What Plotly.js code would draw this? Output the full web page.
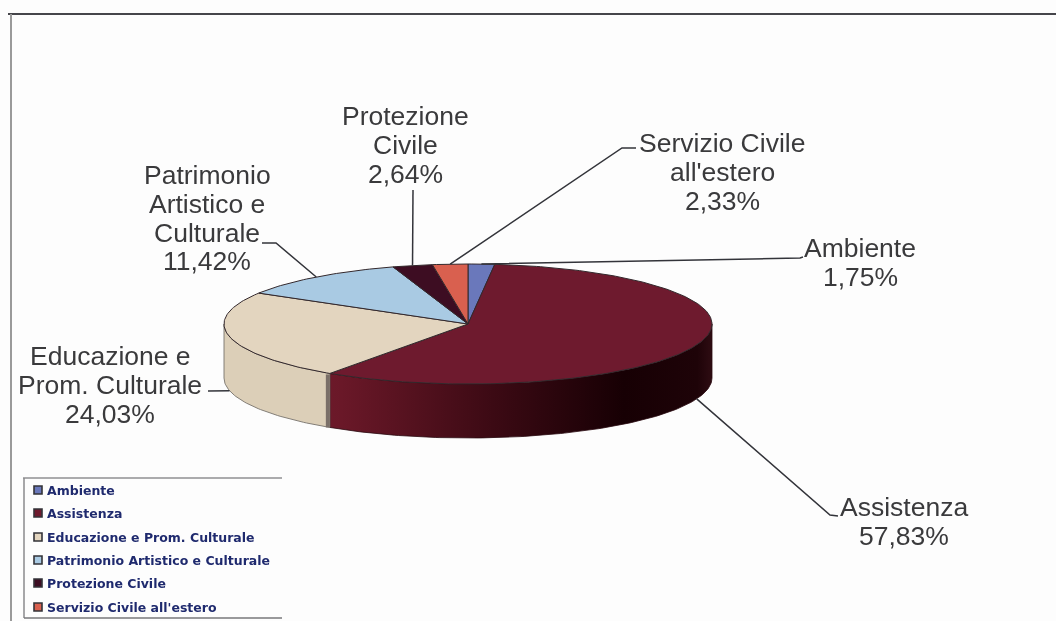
<!DOCTYPE html>
<html>
<head>
<meta charset="utf-8">
<script src="https://cdn.plot.ly/plotly-3.0.1.min.js"></script>
<style>
html,body{margin:0;padding:0;background:#fdfdfd;overflow:hidden}
#chart{width:1056px;height:621px;filter:blur(0.55px)}
</style>
</head>
<body>
<div id="chart"></div>
<script>
// Data
var categories = ["Ambiente","Assistenza","Educazione e Prom. Culturale","Patrimonio Artistico e Culturale","Protezione Civile","Servizio Civile all'estero"];
var values = [1.75,57.83,24.03,11.42,2.64,2.33];
var colors = ["#6a78bb","#6e1a2e","#e3d5bf","#a9cae3","#3d0d22","#d9604f"];

// Label text, one row per line
var labelLines = [
  ["Ambiente","1,75%"],
  ["Assistenza","57,83%"],
  ["Educazione e","Prom. Culturale","24,03%"],
  ["Patrimonio","Artistico e","Culturale","11,42%"],
  ["Protezione","Civile","2,64%"],
  ["Servizio Civile","all'estero","2,33%"]
];
var labelCentreX = [860,904,110,207,405,722];
var labelFirstY = [248,507,356,175,116,143];
// Leader route after the point on the pie rim
var leaderX = [[800,803],[830,838],[208,208],[276,262],[413,413],[622,636]];
var leaderY = [[258,257],[515,516],[391,391],[243,243],[190,190],[148,148]];
var leaderOnWall = [false,true,true,false,false,false];

// Pie geometry
var cx = 468, cy = 324, rx = 244, ry = 60, depth = 54;
function px(a){return cx + rx*Math.sin(a*Math.PI/180);}
function py(a){return cy - ry*Math.cos(a*Math.PI/180);}
function arc(a,b){
  var out=[],n=Math.max(2,Math.ceil(Math.abs(b-a)));
  for(var i=0;i<=n;i++){out.push(a+(b-a)*i/n);}
  return out;
}
var total = values.reduce(function(s,v){return s+v;},0);
var starts=[],ends=[],acc=0;
values.forEach(function(v){starts.push(acc/total*360);acc+=v;ends.push(acc/total*360);});

function wallTrace(a,b,extra){
  var ang=arc(a,b),x=ang.map(px),y=ang.map(py);
  var x2=x.slice().reverse(),y2=y.slice().reverse().map(function(v){return v+depth;});
  var t={type:"scatter",mode:"lines",x:x.concat(x2,[x[0]]),y:y.concat(y2,[y[0]]),fill:"toself",
    line:{color:"#6f6a66",width:0.8},hoverinfo:"skip",showlegend:false};
  for(var k in extra){t[k]=extra[k];}
  return t;
}
var traces=[];
// Side wall: visible part runs from the right extreme to the left extreme
traces.push(wallTrace(90,ends[1],{
  fillcolor:"#3a0a14",
  fillgradient:{type:"horizontal",start:cx-rx,stop:cx+rx,
    colorscale:[[0,"#7a2236"],[0.24,"#6a1828"],[0.55,"#3c0a14"],[0.82,"#170004"],[0.97,"#1e0308"],[1,"#2e0c12"]]},
  line:{color:"#2a0a10",width:0.8}
}));
traces.push(wallTrace(ends[1],270,{fillcolor:"#dccfb8",line:{color:"#77736c",width:0.9}}));
// Cut face between the two wall parts
traces.push({type:"scatter",mode:"lines",
  x:[px(ends[1])-2,px(ends[1])-2],y:[py(ends[1])+1,py(ends[1])+depth],
  line:{color:"#7a6f68",width:4},hoverinfo:"skip",showlegend:false});
// Top surface
values.forEach(function(v,i){
  var ang=arc(starts[i],ends[i]);
  traces.push({type:"scatter",mode:"lines",
    x:[cx].concat(ang.map(px),[cx]),y:[cy].concat(ang.map(py),[cy]),
    fill:"toself",fillcolor:colors[i],name:categories[i],
    line:{color:"#33282c",width:1},hoverinfo:"skip",showlegend:false});
});
// Leaders
values.forEach(function(v,i){
  var mid=(starts[i]+ends[i])/2;
  var ax=px(mid), ay=py(mid)+(leaderOnWall[i]?depth:0);
  traces.push({type:"scatter",mode:"lines",x:[ax].concat(leaderX[i]),y:[ay].concat(leaderY[i]),
    line:{color:"#33343a",width:1.5},hoverinfo:"skip",showlegend:false});
});
// Legend swatches
var legendRowY=[490,513,537,560,583,607];
traces.push({type:"scatter",mode:"markers",
  x:legendRowY.map(function(){return 38;}),y:legendRowY,
  marker:{symbol:"square",size:8,color:colors,line:{color:"#333338",width:1.6}},
  hoverinfo:"skip",showlegend:false});

var annotations=[];
labelLines.forEach(function(lines,i){
  lines.forEach(function(t,j){
    annotations.push({xref:"x",yref:"y",x:labelCentreX[i],y:labelFirstY[i]+j*28.8,text:t,showarrow:false,
      xanchor:"center",yanchor:"middle",font:{family:"Liberation Sans, Arial, sans-serif",size:26.5,color:"#3a3a3c"}});
  });
});
categories.forEach(function(c,i){
  annotations.push({xref:"x",yref:"y",x:45,y:legendRowY[i],text:c,showarrow:false,xanchor:"left",yanchor:"middle",
    font:{family:"DejaVu Sans, sans-serif",size:12.5,weight:700,color:"#1f2a6e"}});
});

function seg(x0,y0,x1,y1,col,w){return {type:"line",xref:"x",yref:"y",x0:x0,y0:y0,x1:x1,y1:y1,line:{color:col,width:w},layer:"below"};}
var shapes=[
  seg(8,14,1056,14,"#45454a",2),
  seg(11,14,11,621,"#9a9a9a",2),
  seg(23,478,282,478,"#8f8f92",1.5),
  seg(24,478,24,618,"#8a8a8c",1.5),
  seg(24,618,282,618,"#77777a",1.5)
];

Plotly.newPlot("chart",traces,{
  width:1056,height:621,margin:{l:0,r:0,t:0,b:0,pad:0},
  paper_bgcolor:"#fdfdfd",plot_bgcolor:"#fdfdfd",showlegend:false,
  xaxis:{range:[0,1056],visible:false,fixedrange:true},
  yaxis:{range:[621,0],visible:false,fixedrange:true},
  annotations:annotations,shapes:shapes
},{displayModeBar:false,staticPlot:true});
</script>
</body>
</html>
